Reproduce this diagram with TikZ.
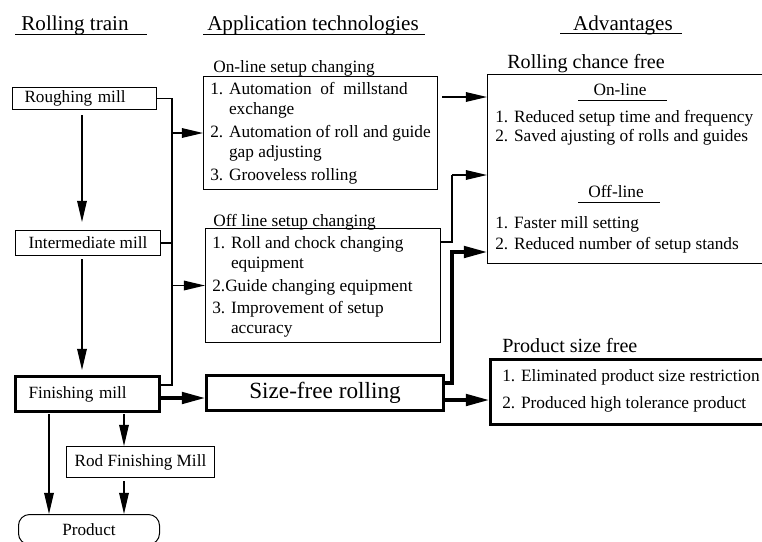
\documentclass[tikz,border=0pt]{standalone}
\usepackage{fontspec}
\setmainfont{Liberation Serif}
\usetikzlibrary{calc,arrows.meta}
\newdimen\pxu
\pxu=0.025cm
\tikzset{
	head/.style={font=\fontsize{15}{18}\selectfont, inner sep=0pt, anchor=base},
	grouplabel/.style={font=\fontsize{12.3}{15}\selectfont, inner sep=0pt, anchor=base west},
	advlabel/.style={font=\fontsize{14.3}{17}\selectfont, inner sep=0pt, anchor=base west},
	itemlist/.style={font=\fontsize{12.3}{14.2}\selectfont, inner sep=0pt, anchor=north west, align=left},
	millbox/.style={draw, line width=0.25mm, inner sep=0pt, anchor=north west, font=\fontsize{12.2}{14}\selectfont},
	heavybox/.style={millbox, line width=0.75mm},
	arr/.style={line width=0.35mm, -{Triangle[length=5.3mm,width=2.4mm]}},
	heavyarr/.style={line width=0.8mm, -{Triangle[length=5.8mm,width=2.9mm]}},
	bus/.style={line width=0.35mm},
}

\begin{document}
\begin{tikzpicture}[x=0.025cm, y=-0.025cm]
			%%%%% START %%%%%
			\useasboundingbox (0,0) rectangle (762,541);
			\clip (0,0) rectangle (762,541);
			
			\node[head] (hdtrain) at (75,30) {Rolling train};
			\node[head] (hdtech) at (313,30) {Application technologies};
			\node[head] (hdadv) at (623,30) {Advantages};
			\draw[line width=0.25mm] (15,34.5) -- (147,34.5);
			\draw[line width=0.25mm] (203,34) -- (425,34);
			\draw[line width=0.25mm] (560,33) -- (682,33);
			
			% rolling train
			\node[millbox, text width=120\pxu, inner xsep=12\pxu, minimum height=22\pxu, align=left] (rough) at (12,87) {Roughing mill};
			\node[millbox, minimum width=145\pxu, minimum height=25\pxu] (inter) at (15,230) {Intermediate mill};
			\node[heavybox, text width=118\pxu, inner xsep=13\pxu, minimum height=35\pxu, align=left] (fin) at (14,375) {Finishing mill};
			\node[millbox, minimum width=148\pxu, minimum height=31\pxu] (rod) at (66,446) {Rod Finishing Mill};
			\node[millbox, minimum width=141\pxu, minimum height=30\pxu, rounded corners=11\pxu] (prod) at (18,514) {Product};
			
			% application technologies
			\node[grouplabel] (onlbl) at (213,72) {On-line setup changing};
			\node[millbox, minimum width=234\pxu, minimum height=113\pxu] (online) at (203,76) {};
			\node[itemlist] (onitems) at (210,82) {1. Automation\ \ of\ \ millstand\\ \phantom{1. }exchange\\[2.1pt] 2. Automation of roll and guide\\ \phantom{2. }gap adjusting\\[2.1pt] 3. Grooveless rolling};
			
			\node[grouplabel] (offlbl) at (213,226) {Off line setup changing};
			\node[millbox, minimum width=235\pxu, minimum height=114\pxu] (offline) at (205,228) {};
			\node[itemlist] (offitems) at (212,236.5) {1. Roll and chock changing\\ \phantom{1. }equipment\\[2.1pt] 2.Guide changing equipment\\[1pt] 3. Improvement of setup\\ \phantom{3. }accuracy};
			
			\node[heavybox, minimum width=237\pxu, minimum height=35\pxu, font=\fontsize{16.5}{19}\selectfont] (size) at (205,374) {Size-free rolling};
			
			% advantages
			\node[advlabel] (rcflbl) at (507,68) {Rolling chance free};
			\node[millbox, minimum width=300\pxu, minimum height=189\pxu] (rcf) at (487,74) {};
			\node[grouplabel, anchor=base] (rcfon) at (620,95) {On-line};
			\draw[line width=0.25mm] (578,100) -- (667,100);
			\node[itemlist] (rcfonitems) at (495,110) {1. Reduced setup time and frequency\\[-1pt] 2. Saved ajusting of rolls and guides};
			\node[grouplabel, anchor=base] (rcfoff) at (616,197) {Off-line};
			\draw[line width=0.25mm] (578,202) -- (660,202);
			\node[itemlist] (rcfoffitems) at (495,216) {1. Faster mill setting\\[0.7pt] 2. Reduced number of setup stands};
			
			\node[advlabel] (psflbl) at (502,352) {Product size free};
			\node[heavybox, minimum width=300\pxu, minimum height=65\pxu] (psf) at (489,358) {};
			\node[itemlist] (psfitems) at (502,369) {1. Eliminated product size restriction\\[5pt] 2. Produced high tolerance product};
			
			% connectors
			\coordinate (busB) at (172,385);
			\draw[bus] (rough.east) -| (busB) -- (busB -| fin.east);
			\draw[bus] (inter.east) -- (inter.east -| busB);
			\draw[arr] (online.west -| busB) -- (online.west);
			\draw[arr] (offline.west -| busB) -- (offline.west);
			
			\coordinate (r1) at (82,115);
			\coordinate (i1) at (82,259);
			\coordinate (f1) at (161,398);
			\coordinate (f2) at (49,414);
			\coordinate (f3) at (124,414);
			\coordinate (d1) at (124,481);
			\draw[arr, shorten >=8\pxu] (r1) -- (r1 |- inter.north);
			\draw[arr, shorten >=5\pxu] (i1) -- (i1 |- fin.north);
			\draw[heavyarr] (f1) -- (f1 -| size.west);
			\draw[arr] (f3) -- (f3 |- rod.north);
			\draw[arr] (f2) -- (f2 |- prod.north);
			\draw[arr] (d1) -- (d1 |- prod.north);
			
			\coordinate (o1) at (442,97);
			\coordinate (o2) at (441,242);
			\coordinate (j2) at (452,175);
			\coordinate (s1) at (442,383);
			\coordinate (j3) at (452,252);
			\coordinate (s2) at (442,400);
			\draw[arr] (o1) -- (o1 -| rcf.west);
			\draw[bus] (o2) -| (j2);
			\draw[arr] (j2) -- (j2 -| rcf.west);
			\draw[heavyarr] (s1) -| (j3) -- (j3 -| rcf.west);
			\draw[heavyarr] (s2) -- (s2 -| psf.west);
			
			%%%%% END %%%%%
\end{tikzpicture}
\end{document}
